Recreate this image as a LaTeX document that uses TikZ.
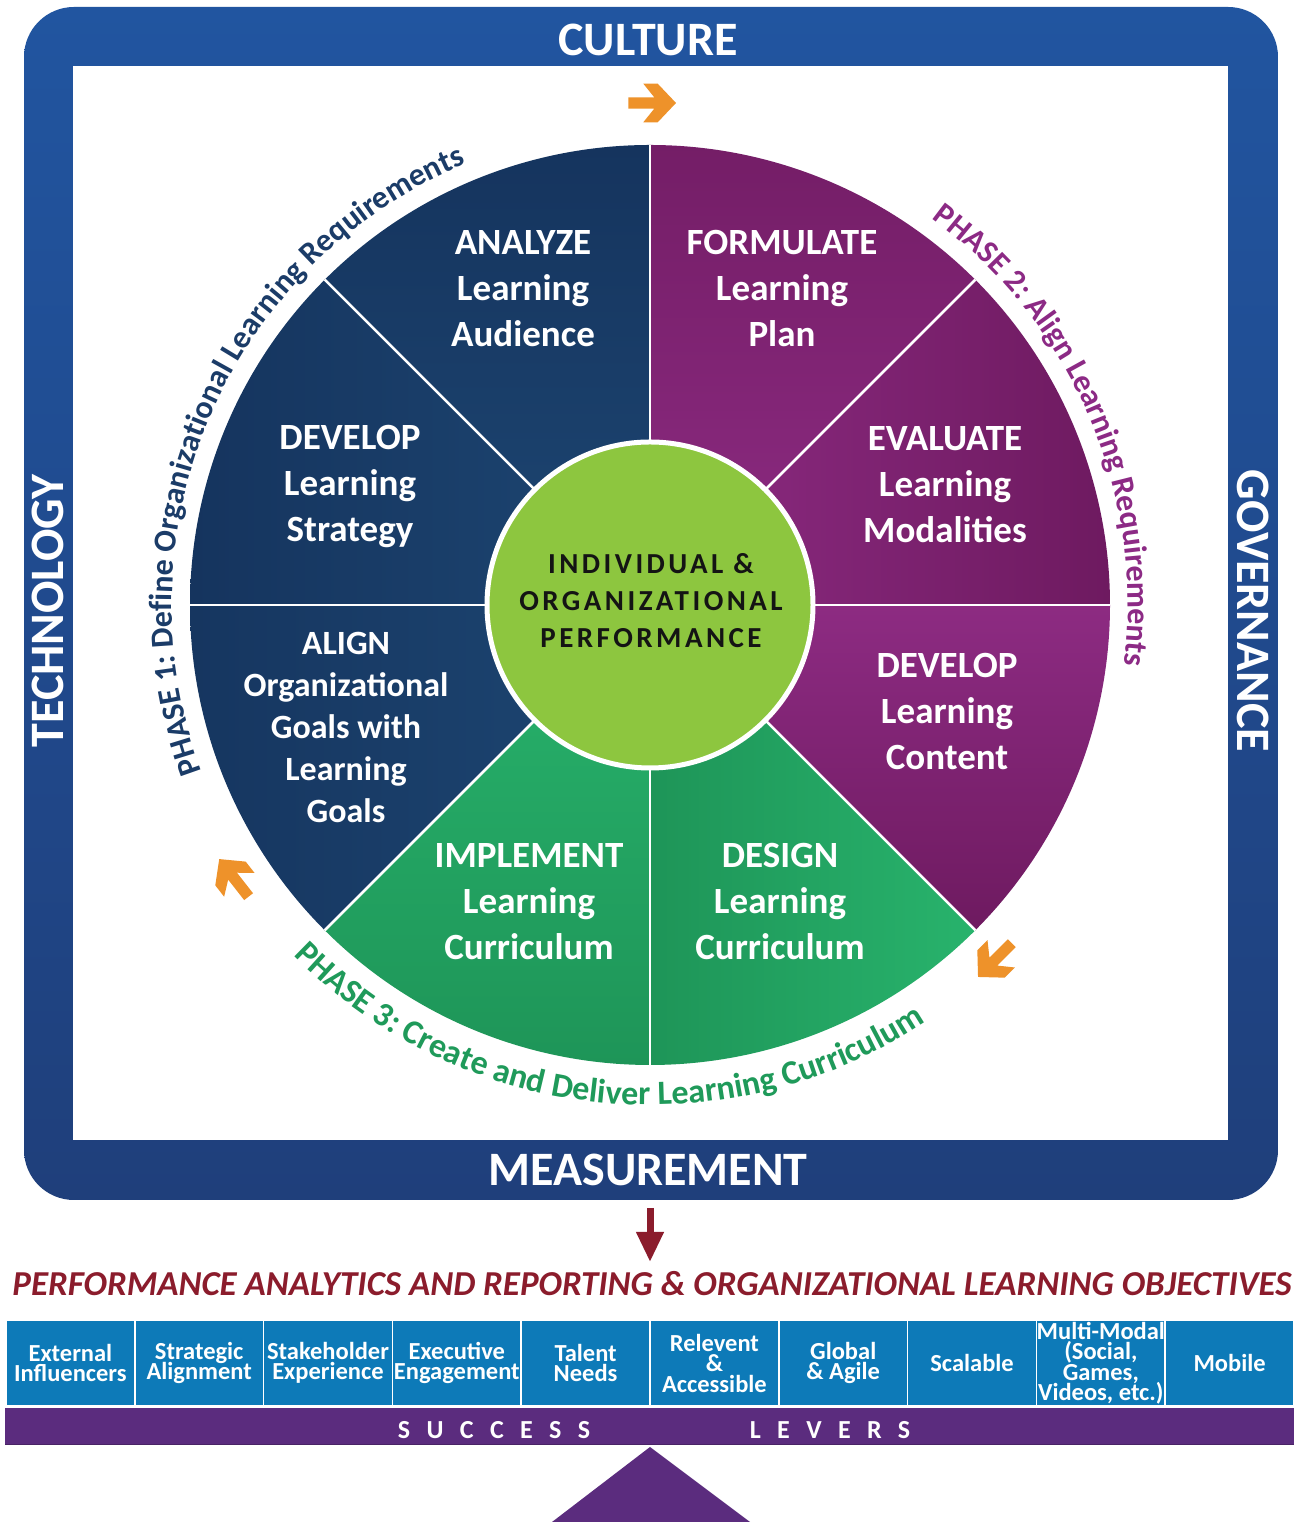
\documentclass[tikz,border=0pt]{standalone}
\usepackage{fontspec}
\setmainfont{Carlito}
\usetikzlibrary{calc,decorations.text,arrows.meta}

\definecolor{bandtop}{HTML}{2155A0}
\definecolor{bandbot}{HTML}{1F3F7B}
\definecolor{navyA}{HTML}{15345E}
\definecolor{navyB}{HTML}{1D4672}
\definecolor{plumA}{HTML}{6E1A60}
\definecolor{plumB}{HTML}{8D2B82}
\definecolor{leafA}{HTML}{1E9558}
\definecolor{leafB}{HTML}{28B36C}
\definecolor{lime}{HTML}{8DC63F}
\definecolor{arrorange}{HTML}{EE922A}
\definecolor{wine}{HTML}{8B1C2C}
\definecolor{leverblue}{HTML}{0D7AB8}
\definecolor{leverpurple}{HTML}{5B2C7E}
\definecolor{phaseone}{HTML}{1B3C68}
\definecolor{phasetwo}{HTML}{8C2A85}
\definecolor{phasethree}{HTML}{1F9A5A}
\definecolor{coreink}{HTML}{141414}

\newcommand\phasefont{\bfseries\fontsize{32}{32}\selectfont}
\newcommand\phasefontwide{\bfseries\fontsize{34}{34}\selectfont}

\tikzset{
  bandlabel/.style={text=white, inner sep=0, font={\bfseries\fontsize{48}{48}\selectfont}},
  sectorlabel/.style={text=white, align=center, inner sep=0, font={\bfseries\fontsize{37}{46}\selectfont}},
  alignlabel/.style={text=white, align=center, inner sep=0, font={\bfseries\fontsize{34}{42}\selectfont}},
  corelabel/.style={text=coreink, align=center, inner sep=0, font={\bfseries\fontsize{29}{37}\selectfont\addfontfeature{LetterSpace=12}}},
  leverbox/.style={fill=leverblue, draw=white, line width=1.5, minimum width=128.8, minimum height=86, inner sep=0, align=center, text=white, font={\bfseries\fontsize{24.5}{20.5}\selectfont\lineskiplimit=-50pt}},
  leverword/.style={text=white, inner sep=0, font={\bfseries\fontsize{26}{26}\selectfont\addfontfeature{LetterSpace=63}}},
  divider/.style={white, line width=2.5},
  turnarrow/.pic={\fill[arrorange] (24,0) -- (5.7,19.3) -- (-8.7,19.3) -- (2.3,5.6) -- (-23.7,5.6) -- (-23.7,-5.6) -- (2.3,-5.6) -- (-8.7,-19.3) -- (5.7,-19.3) -- cycle;}
}

\begin{document}
\begin{tikzpicture}[x=1pt,y=1pt]
\useasboundingbox (0,0) rectangle (1294,1522);

% outer frame band and white field
\shade[top color=bandtop, bottom color=bandbot, rounded corners=50] (24,322) rectangle (1278,1515);
\fill[white] (73,382) rectangle (1228,1456);

\node[bandlabel] (culture) at (648,1482) {CULTURE};
\node[bandlabel] (measurement) at (648,352) {MEASUREMENT};
\node[bandlabel, rotate=90] (technology) at (48,911) {TECHNOLOGY};
\node[bandlabel, rotate=-90] (governance) at (1253,911) {GOVERNANCE};

% wheel
\coordinate (C) at (650,917);
\shade[top color=navyA, bottom color=navyB] (C) -- ++(90:460) arc[start angle=90, end angle=135, radius=460] -- cycle;
\shade[left color=navyA, right color=navyB] (C) -- ++(135:460) arc[start angle=135, end angle=180, radius=460] -- cycle;
\shade[left color=navyA!90!navyB, right color=navyB] (C) -- ++(180:460) arc[start angle=180, end angle=225, radius=460] -- cycle;
\shade[top color=leafB, bottom color=leafA] (C) -- ++(225:460) arc[start angle=225, end angle=270, radius=460] -- cycle;
\shade[left color=leafA, right color=leafB] (C) -- ++(270:460) arc[start angle=270, end angle=315, radius=460] -- cycle;
\shade[top color=plumB, bottom color=plumA] (C) -- ++(315:460) arc[start angle=315, end angle=360, radius=460] -- cycle;
\shade[left color=plumB, right color=plumA] (C) -- ++(0:460) arc[start angle=0, end angle=45, radius=460] -- cycle;
\shade[top color=plumA!80!plumB, bottom color=plumB] (C) -- ++(45:460) arc[start angle=45, end angle=90, radius=460] -- cycle;
\foreach \a in {0,45,...,315} \draw[divider] (C) -- ++(\a:460);

\node[circle, fill=lime, draw=white, line width=5, minimum size=326, inner sep=0] (hub) at (C) {};
\node[corelabel] (core) at (651,921) {INDIVIDUAL \&\\ORGANIZATIONAL\\PERFORMANCE};

\node[sectorlabel] (analyze) at (523,1233) {ANALYZE\\Learning\\Audience};
\node[sectorlabel] (formulate) at (782,1233) {FORMULATE\\Learning\\Plan};
\node[sectorlabel] (strategy) at (350,1035) {DEVELOP\\Learning\\Strategy};
\node[sectorlabel] (evaluate) at (945,1037) {EVALUATE\\Learning\\Modalities};
\node[alignlabel] (align) at (346,795) {ALIGN\\Organizational\\Goals with\\Learning\\Goals};
\node[sectorlabel] (content) at (947,810) {DEVELOP\\Learning\\Content};
\node[sectorlabel] (implement) at (529,620) {IMPLEMENT\\Learning\\Curriculum};
\node[sectorlabel] (design) at (780,620) {DESIGN\\Learning\\Curriculum};

% phase captions around the wheel
\path[decorate, decoration={text along path, text align=center, text color=phaseone,
  text={|\phasefont|PHASE 1: Define Organizational Learning Requirements}}]
  ($(C)+(215:478)$) arc[start angle=215, end angle=98, radius=478];
\path[decorate, decoration={text along path, text align=center, text color=phasetwo,
  text={|\phasefont|PHASE 2: Align Learning Requirements}}]
  ($(C)+(75:478)$) arc[start angle=75, end angle=-28.4, radius=478];
\path[decorate, decoration={text along path, text align=center, text color=phasethree,
  text={|\phasefontwide|PHASE 3: Create and Deliver Learning Curriculum}}]
  ($(C)+(-150:500)$) arc[start angle=-150, end angle=-42, radius=500];

% cycle arrows
\pic (cyctop) at (652,1419) {turnarrow};
\pic[rotate=128] (cycleft) at (234,644) {turnarrow};
\pic[rotate=225] (cycright) at (995,562) {turnarrow};

% outcome arrow and heading
\coordinate (arrtail) at (650,314);
\coordinate (arrtip) at (650,260);
\draw[wine, line width=7, -{Triangle[width=26pt,length=30pt]}] (arrtail) -- (arrtip);
\node[text=wine, inner sep=0, font={\bfseries\itshape\fontsize{35}{35}\selectfont}] (objectives) at (652,238)
  {PERFORMANCE ANALYTICS AND REPORTING \& ORGANIZATIONAL LEARNING OBJECTIVES};

% success levers
\node[leverbox] (lv1) at (70.4,159) {External\\Influencers};
\node[leverbox] (lv2) at (199.2,159) {Strategic\\Alignment};
\node[leverbox] (lv3) at (328,159) {Stakeholder\\Experience};
\node[leverbox] (lv4) at (456.8,159) {Executive\\Engagement};
\node[leverbox] (lv5) at (585.6,159) {Talent\\Needs};
\node[leverbox] (lv6) at (714.4,159) {Relevent\\\&\\Accessible};
\node[leverbox] (lv7) at (843.2,159) {Global\\\& Agile};
\node[leverbox] (lv8) at (972,159) {Scalable};
\node[leverbox] (lv9) at (1100.8,159) {Multi-Modal\\(Social,\\Games,\\Videos, etc.)};
\node[leverbox] (lv10) at (1229.6,159) {Mobile};

\fill[leverpurple] (5,77) rectangle (1294,114);
\draw[leverpurple!80!black, line width=1.5] (5,77.5) -- (1294,77.5);
\node[leverword] (success) at (494,92) {SUCCESS};
\node[leverword] (levers) at (830,92) {LEVERS};
\fill[leverpurple] (650,75) -- (552,0) -- (750,0) -- cycle;
\end{tikzpicture}
\end{document}
